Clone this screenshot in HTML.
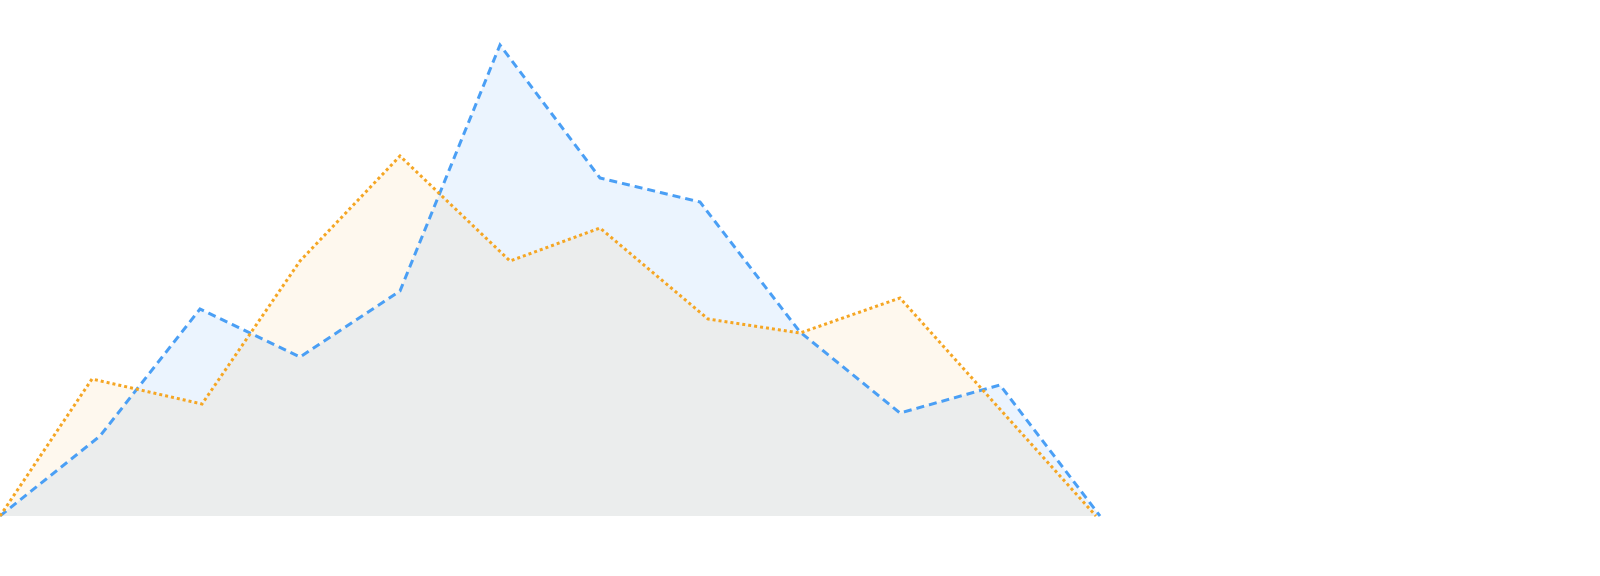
<!DOCTYPE html>
<html><head><meta charset="utf-8"><style>
html,body{margin:0;padding:0;background:#fff;width:1600px;height:576px;overflow:hidden}
</style></head><body>
<svg id="chart" width="1600" height="576"></svg>
<script>
const blueX = [0,1,2,3,4,5,6,7,8,9,10,11];
const blueValues = [0,16,41.4,31.8,45,94.2,67.6,62.8,36.8,20.6,26.2,0];
const orangeX = [0,0.92,2.02,3,4,5.1,6,7.08,8,9,10.96];
const orangeValues = [0,27.4,22.4,51,72,51,57.6,39.4,36.6,43.6,0];
const NS='http://www.w3.org/2000/svg';
const svg=document.getElementById('chart');
function xs(v){return v*100;}
function ys(v){return 516-v*5;}
function draw(xv,yv,color,fillOp,dash,width,name){
  const pts=xv.map((x,i)=>xs(x)+','+ys(yv[i]));
  const area=document.createElementNS(NS,'polygon');
  area.setAttribute('points',pts.join(' ')+' '+xs(xv[xv.length-1])+','+ys(0)+' '+xs(xv[0])+','+ys(0));
  area.setAttribute('fill',color);
  area.setAttribute('fill-opacity',fillOp);
  
  
  svg.appendChild(area);
  return pts;
}
function line(pts,color,dash,width,name){
  const l=document.createElementNS(NS,'polyline');
  l.setAttribute('points',pts.join(' '));
  l.setAttribute('fill','none');
  l.setAttribute('stroke',color);
  l.setAttribute('stroke-width',width);
  l.setAttribute('stroke-dasharray',dash);
  
  
  svg.appendChild(l);
}
const bp=draw(blueX,blueValues,'#4a9ff5',0.11,'',3,'blue-series');
const op=draw(orangeX,orangeValues,'#f5a623',0.08,'',3,'orange-series');
line(bp,'#4a9ff5','8 5',3,'blue-series');
line(op,'#f5a623','3 3',3,'orange-series');
</script>
</body></html>
